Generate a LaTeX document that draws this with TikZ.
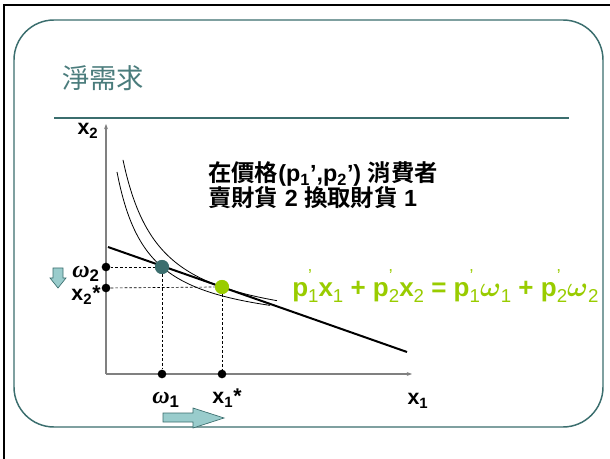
\documentclass[tikz,border=0pt]{standalone}
\usepackage{amsmath}
\usepackage{bm}
\usepackage{fontspec}
\setmainfont{Liberation Sans}
\newfontfamily\cjk{Noto Sans CJK TC}[BoldFont={Noto Sans CJK TC Bold}]
\newfontfamily\greekf{Liberation Serif}
\usetikzlibrary{arrows.meta}
\definecolor{framec}{HTML}{3B6E6E}
\definecolor{titlec}{HTML}{4A7C7C}
\definecolor{greenc}{HTML}{99CC00}
\definecolor{arrowfill}{HTML}{99CCCC}
\definecolor{axisc}{HTML}{808080}
\newcommand{\subq}[1]{\raisebox{-0.22em}{\fontsize{14}{14}\selectfont\mdseries #1}}
\newcommand{\pq}[1]{p\rlap{\raisebox{0.6em}{\fontsize{13}{13}\selectfont\mdseries ’}}\subq{#1}}
\newcommand{\xq}[1]{x\subq{#1}}
\newcommand{\wq}[1]{$\bm{\omega}$\subq{#1}}
\newcommand{\omlbl}[1]{{\greekf\bfseries\itshape ω}\textsubscript{#1}}
\tikzset{
  axis/.style={draw=axisc, line width=0.9pt, -{Stealth[length=4pt,width=3pt]}},
  dot/.style={circle, fill=black, inner sep=0pt, minimum size=6.5pt},
  bigdot/.style={circle, inner sep=0pt, minimum size=10.5pt},
  guide/.style={dashed, line width=0.5pt, dash pattern=on 2pt off 1.5pt},
  icurve/.style={line width=0.6pt},
  budget/.style={line width=1.5pt},
  lbl/.style={font=\bfseries\fontsize{16}{19}\selectfont, inner sep=0pt},
  wlbl/.style={font=\bfseries\fontsize{18}{22}\selectfont, inner sep=0pt},
  fatarrow/.style={fill=arrowfill, draw=framec, line width=0.5pt},
  txt/.style={anchor=base west, inner sep=0pt, text height=0.82em, text depth=0.1em, font=\bfseries\fontsize{17.5}{20}\selectfont},
}
\begin{document}
\begin{tikzpicture}[x=0.75pt,y=-0.75pt]
\useasboundingbox (0,0) rectangle (610,459);
\fill[white] (0,0) rectangle (610,459);
% outer frame
\draw[line width=1.6pt] (4,459) -- (4,5) -- (610,5);
% slide panel
\draw[framec, line width=1.1pt, rounded corners=30pt] (14,20) rectangle (603,427);
\node[anchor=base west, inner sep=0pt, text=titlec, font=\cjk\fontsize{20.5}{24}\selectfont] (title) at (62,89) {淨需求};
\draw[framec, line width=2.2pt] (54,118) -- (569,118);
% axes
\coordinate (O) at (106,374);
\coordinate (ytop) at (106,124);
\coordinate (xend) at (412,374);
\draw[axis] (O) -- (ytop);
\draw[axis] (O) -- (xend);
\node[lbl] (x2lab) at (88,131) {x\textsubscript{2}};
\node[lbl] (x1lab) at (418,401) {x\textsubscript{1}};
% indifference curves
\draw[icurve] plot[domain=11:164, samples=80, smooth] ({106+\x},{374-41.6-4973/(\x+20)});
\draw[icurve] plot[domain=17:171, samples=80, smooth] ({106+\x},{374-39.5-6460/(\x+20)});
% budget line
\coordinate (b0) at (108,247);
\coordinate (b1) at (407,352);
\draw[budget] (b0) -- (b1);
% points
\node[dot] (w2) at (106,267) {};
\node[dot] (x2s) at (106,288) {};
\node[dot] (w1) at (162,374) {};
\node[dot] (x1s) at (222,374) {};
\node[bigdot, fill=framec] (E) at (162,267) {};
\node[bigdot, fill=greenc] (S) at (222,287) {};
\draw[guide] (w2) -- (E);
\draw[guide] (E) -- (w1);
\draw[guide] (x2s) -- (S.west);
\draw[guide] (S) -- (x1s);
\node[bigdot, fill=framec] at (E) {};
\node[bigdot, fill=greenc] at (S) {};
% axis point labels
\node[wlbl] (w2lab) at (86,274) {\omlbl{2}};
\node[lbl] (x2slab) at (86,295) {x\textsubscript{2}*};
\node[wlbl] (w1lab) at (166,400) {\omlbl{1}};
\node[lbl] (x1slab) at (227,398) {x\textsubscript{1}*};
% explanatory text
\node[txt] (line1) at (208,182) {{\cjk 在價格}(p\textsubscript{1}’,p\textsubscript{2}’) {\cjk 消費者}};
\node[txt] (line2) at (208,207) {{\cjk 賣財貨} 2 {\cjk 換取財貨} 1};
% budget equation
\node[anchor=base west, inner sep=0pt, text=greenc, font=\bfseries\fontsize{19.5}{24}\selectfont] (budgeq) at (292,297) {\pq{1}\xq{1} + \pq{2}\xq{2} = \pq{1}\wq{1} + \pq{2}\wq{2}};
% movement arrows
\draw[fatarrow] (53,268) -- (63,268) -- (63,278) -- (66,278) -- (58,288) -- (50,278) -- (53,278) -- cycle;
\draw[fatarrow] (163,413) -- (193,413) -- (193,408) -- (224,418) -- (193,428) -- (193,422) -- (163,422) -- cycle;
\end{tikzpicture}
\end{document}
